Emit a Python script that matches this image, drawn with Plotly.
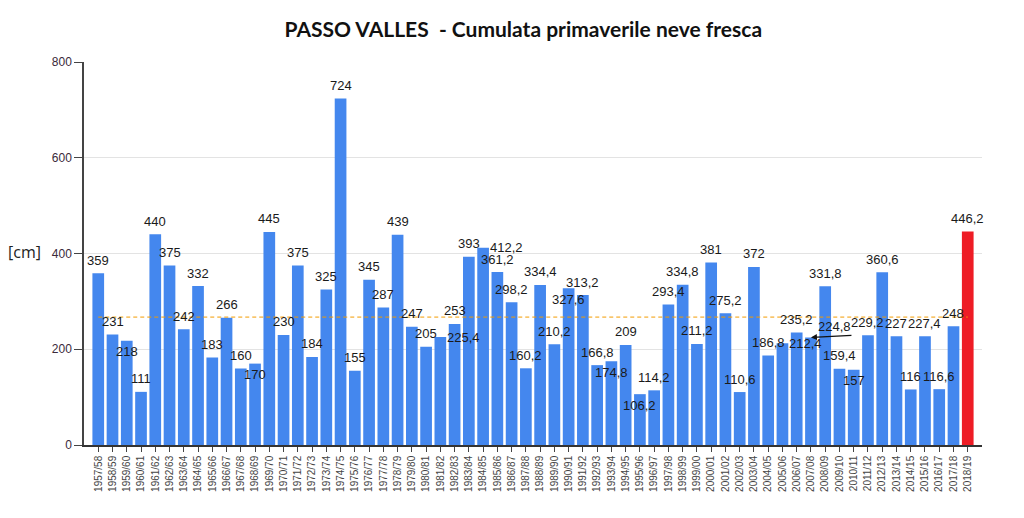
import plotly.graph_objects as go

seasons = [
    "1957/58", "1958/59", "1959/60", "1960/61", "1961/62", "1962/63", "1963/64", "1964/65",
    "1965/66", "1966/67", "1967/68", "1968/69", "1969/70", "1970/71", "1971/72", "1972/73",
    "1973/74", "1974/75", "1975/76", "1976/77", "1977/78", "1978/79", "1979/80", "1980/81",
    "1981/82", "1982/83", "1983/84", "1984/85", "1985/86", "1986/87", "1987/88", "1988/89",
    "1989/90", "1990/91", "1991/92", "1992/93", "1993/94", "1994/95", "1995/96", "1996/97",
    "1997/98", "1998/99", "1999/00", "2000/01", "2001/02", "2002/03", "2003/04", "2004/05",
    "2005/06", "2006/07", "2007/08", "2008/09", "2009/10", "2010/11", "2011/12", "2012/13",
    "2013/14", "2014/15", "2015/16", "2016/17", "2017/18", "2018/19",
]

snow_cm = [
    359, 231, 218, 111, 440, 375, 242, 332,
    183, 266, 160, 170, 445, 230, 375, 184,
    325, 724, 155, 345, 287, 439, 247, 205,
    225.4, 253, 393, 412.2, 361.2, 298.2, 160.2, 334.4,
    210.2, 327.6, 313.2, 166.8, 174.8, 209, 106.2, 114.2,
    293.4, 334.8, 211.2, 381, 275.2, 110.6, 372, 186.8,
    212.4, 235.2, 224.8, 331.8, 159.4, 157, 229.2, 360.6,
    227, 116, 227.4, 116.6, 248, 446.2,
]

current_season = "2018/19"
mean_cm = sum(snow_cm) / len(snow_cm)

# label placement tweaks (as in the original chart)
labels_inside = {"1959/60", "1968/69", "1990/91", "1993/94", "1995/96", "2010/11"}
labels_right = {"1981/82", "1984/85", "2005/06"}
label_arrow = "2007/08"

BLUE = "#4487EE"
RED = "#EE1C25"
bar_colors = [RED if s == current_season else BLUE for s in seasons]


def fmt(v):
    if float(v).is_integer():
        return str(int(v))
    return f"{v:.1f}".replace(".", ",")


fig = go.Figure()
fig.add_trace(go.Bar(
    x=seasons, y=snow_cm, marker=dict(color=bar_colors, line=dict(width=0)),
    hoverinfo="x+y", showlegend=False,
))
fig.add_trace(go.Scatter(
    x=seasons, y=[mean_cm] * len(seasons), mode="lines",
    line=dict(color="#F39C00", width=1, dash="4px,3px"),
    hoverinfo="skip", showlegend=False,
))

annotations = []
label_font = dict(family="Liberation Sans, Arial", size=13, color="#1a1a1a")
for s, v in zip(seasons, snow_cm):
    xs, ys = 0, 13
    if s in labels_inside:
        ys = -11
    elif s in labels_right:
        xs, ys = 23, 0
    elif s == label_arrow:
        xs, ys = 24, 11
    annotations.append(dict(
        x=s, y=v, xref="x", yref="y", text=fmt(v), showarrow=False,
        xanchor="center", yanchor="middle", xshift=xs, yshift=ys, font=label_font,
    ))
annotations.append(dict(
    x=label_arrow, y=snow_cm[seasons.index(label_arrow)], xref="x", yref="y",
    text="", showarrow=True, ax=42, ay=-2, axref="pixel", ayref="pixel",
    arrowhead=2, arrowsize=1, arrowwidth=1.2, arrowcolor="#111", standoff=0,
))
annotations.append(dict(
    x=-0.066, y=0.505, xref="paper", yref="paper", text="[cm]", showarrow=False,
    xanchor="center", yanchor="middle",
    font=dict(family="Open Sans, Noto Sans", size=16, color="#222"),
))

fig.update_layout(
    width=1024, height=518,
    margin=dict(l=84, r=42, t=62, b=73),
    paper_bgcolor="white", plot_bgcolor="white",
    bargap=0.18,
    title=dict(
        text="<b>PASSO VALLES  - Cumulata primaverile neve fresca</b>",
        x=0.511, xref="container", xanchor="center",
        y=1 - 30 / 518, yref="container", yanchor="middle",
        font=dict(family="Lato, Open Sans", size=21, color="#111"),
    ),
    xaxis=dict(
        type="category", range=[-1, 62], tickangle=-90,
        tickfont=dict(family="Liberation Sans, Arial", size=10, color="#444"),
        ticks="outside", ticklen=5, tickcolor="#444",
        showline=True, linecolor="#333", linewidth=1.5,
        showgrid=False, zeroline=False,
    ),
    yaxis=dict(
        range=[0, 800], dtick=200, tickmode="linear", tick0=0,
        tickfont=dict(family="Liberation Sans, Arial", size=12, color="#3a2a3a"),
        ticks="outside", ticklen=8, tickcolor="#444",
        showline=True, linecolor="#444", linewidth=1.5,
        showgrid=True, gridcolor="#e3e3e3", gridwidth=1,
        zeroline=False,
    ),
    annotations=annotations,
)

fig.write_html("out.html")
